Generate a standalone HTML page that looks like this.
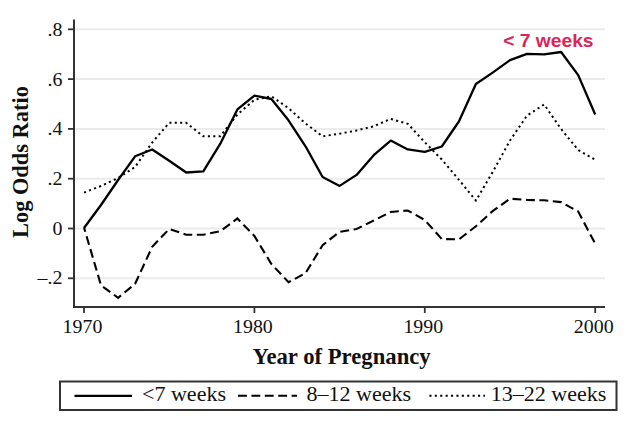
<!DOCTYPE html>
<html><head><meta charset="utf-8"><style>
html,body{margin:0;padding:0;background:#fff;}
svg{display:block;}
text{font-family:"Liberation Serif",serif;fill:#111;}
</style></head><body>
<svg width="631" height="432" viewBox="0 0 631 432">
<rect width="631" height="432" fill="#fff"/>
<line x1="74" x2="605" y1="29.3" y2="29.3" stroke="#ebebeb" stroke-width="2"/>
<line x1="68" x2="74" y1="29.3" y2="29.3" stroke="#333" stroke-width="1.8"/>
<line x1="74" x2="605" y1="79.1" y2="79.1" stroke="#ebebeb" stroke-width="2"/>
<line x1="68" x2="74" y1="79.1" y2="79.1" stroke="#333" stroke-width="1.8"/>
<line x1="74" x2="605" y1="128.9" y2="128.9" stroke="#ebebeb" stroke-width="2"/>
<line x1="68" x2="74" y1="128.9" y2="128.9" stroke="#333" stroke-width="1.8"/>
<line x1="74" x2="605" y1="178.7" y2="178.7" stroke="#ebebeb" stroke-width="2"/>
<line x1="68" x2="74" y1="178.7" y2="178.7" stroke="#333" stroke-width="1.8"/>
<line x1="74" x2="605" y1="228.5" y2="228.5" stroke="#ebebeb" stroke-width="2"/>
<line x1="68" x2="74" y1="228.5" y2="228.5" stroke="#333" stroke-width="1.8"/>
<line x1="74" x2="605" y1="278.3" y2="278.3" stroke="#ebebeb" stroke-width="2"/>
<line x1="68" x2="74" y1="278.3" y2="278.3" stroke="#333" stroke-width="1.8"/>

<line x1="74" y1="19.5" x2="74" y2="307" stroke="#333" stroke-width="2"/>
<line x1="73" y1="307" x2="605" y2="307" stroke="#333" stroke-width="2"/>
<text transform="translate(62.50,35.80) scale(1.060,1)" text-anchor="end" font-size="18.80" >.8</text>
<text transform="translate(62.50,85.60) scale(1.060,1)" text-anchor="end" font-size="18.80" >.6</text>
<text transform="translate(62.50,135.40) scale(1.060,1)" text-anchor="end" font-size="18.80" >.4</text>
<text transform="translate(62.50,185.20) scale(1.060,1)" text-anchor="end" font-size="18.80" >.2</text>
<text transform="translate(62.50,235.00) scale(1.060,1)" text-anchor="end" font-size="18.80" >0</text>
<text transform="translate(62.50,283.80) scale(1.060,1)" text-anchor="end" font-size="18.80" >–.2</text>

<line x1="84.0" x2="84.0" y1="307" y2="313" stroke="#333" stroke-width="1.8"/>
<text transform="translate(82.50,333.00) scale(1.060,1)" text-anchor="middle" font-size="18.80" >1970</text>
<line x1="254.4" x2="254.4" y1="307" y2="313" stroke="#333" stroke-width="1.8"/>
<text transform="translate(252.90,333.00) scale(1.060,1)" text-anchor="middle" font-size="18.80" >1980</text>
<line x1="424.8" x2="424.8" y1="307" y2="313" stroke="#333" stroke-width="1.8"/>
<text transform="translate(423.30,333.00) scale(1.060,1)" text-anchor="middle" font-size="18.80" >1990</text>
<line x1="595.2" x2="595.2" y1="307" y2="313" stroke="#333" stroke-width="1.8"/>
<text transform="translate(593.70,333.00) scale(1.060,1)" text-anchor="middle" font-size="18.80" >2000</text>

<polyline points="84.0,192.6 101.0,186.0 118.1,178.0 135.1,167.0 152.2,142.5 169.2,122.8 186.2,122.8 203.3,136.3 220.3,136.3 237.4,114.5 254.4,99.8 271.4,96.2 288.5,108.2 305.5,123.5 322.6,136.3 339.6,133.7 356.6,130.5 373.7,126.3 390.7,118.9 407.8,123.8 424.8,142.3 441.8,159.5 458.9,179.8 475.9,200.6 493.0,171.5 510.0,140.5 527.0,115.6 544.1,104.5 561.1,129.0 578.2,150.0 595.2,159.8" fill="none" stroke="#000" stroke-width="2.0" stroke-dasharray="2.1 3.3"/>
<polyline points="84.0,227.5 101.0,285.3 118.1,297.8 135.1,283.8 152.2,246.8 169.2,229.0 186.2,234.7 203.3,234.7 220.3,231.2 237.4,218.5 254.4,236.0 271.4,264.0 288.5,282.2 305.5,273.2 322.6,245.2 339.6,231.8 356.6,229.0 373.7,220.5 390.7,212.0 407.8,210.5 424.8,220.0 441.8,239.0 458.9,239.4 475.9,226.3 493.0,210.8 510.0,198.7 527.0,200.0 544.1,200.3 561.1,202.1 578.2,211.5 595.2,243.7" fill="none" stroke="#000" stroke-width="2.1" stroke-dasharray="8.9 4.55" stroke-dashoffset="4.4"/>
<polyline points="84.0,228.0 101.0,205.0 118.1,180.0 135.1,156.3 152.2,149.5 169.2,160.7 186.2,172.5 203.3,171.4 220.3,143.7 237.4,109.4 254.4,95.7 271.4,99.0 288.5,120.3 305.5,146.3 322.6,177.0 339.6,185.9 356.6,174.9 373.7,155.2 390.7,140.6 407.8,149.4 424.8,151.8 441.8,146.5 458.9,121.5 475.9,84.0 493.0,72.4 510.0,60.1 527.0,53.8 544.1,54.3 561.1,52.0 578.2,75.1 595.2,114.5" fill="none" stroke="#000" stroke-width="2.3" stroke-linejoin="round"/>
<text transform="translate(503.20,47.30) scale(1.012,1)" text-anchor="start" font-size="19.00" style="font-family:'Liberation Sans',sans-serif;font-weight:bold;fill:#dc2459">&lt; 7 weeks</text>

<text transform="translate(252.60,363.80) scale(1.022,1)" text-anchor="start" font-size="22.20" font-weight="bold">Year of Pregnancy</text>

<g transform="translate(27.70,238.00) rotate(-90)"><text transform="scale(1.000,1.060)" font-size="22.40" font-weight="bold">Log Odds Ratio</text></g>
<rect x="60" y="381.5" width="556.5" height="28.5" fill="none" stroke="#333" stroke-width="2"/>
<line x1="74.5" x2="132" y1="395.8" y2="395.8" stroke="#000" stroke-width="2.2"/>
<line x1="238" x2="297" y1="395.8" y2="395.8" stroke="#000" stroke-width="2.1" stroke-dasharray="8.9 4.5"/>
<line x1="429.4" x2="485" y1="395.8" y2="395.8" stroke="#000" stroke-width="2.0" stroke-dasharray="2.1 3.3"/>
<text transform="translate(142.00,400.80) scale(1.040,1)" text-anchor="start" font-size="21.20" >&lt;7 weeks</text>
<text transform="translate(306.50,400.80) scale(1.040,1)" text-anchor="start" font-size="21.20" >8&#8211;12 weeks</text>
<text transform="translate(490.70,400.80) scale(1.040,1)" text-anchor="start" font-size="21.20" >13&#8211;22 weeks</text>

</svg>
</body></html>
